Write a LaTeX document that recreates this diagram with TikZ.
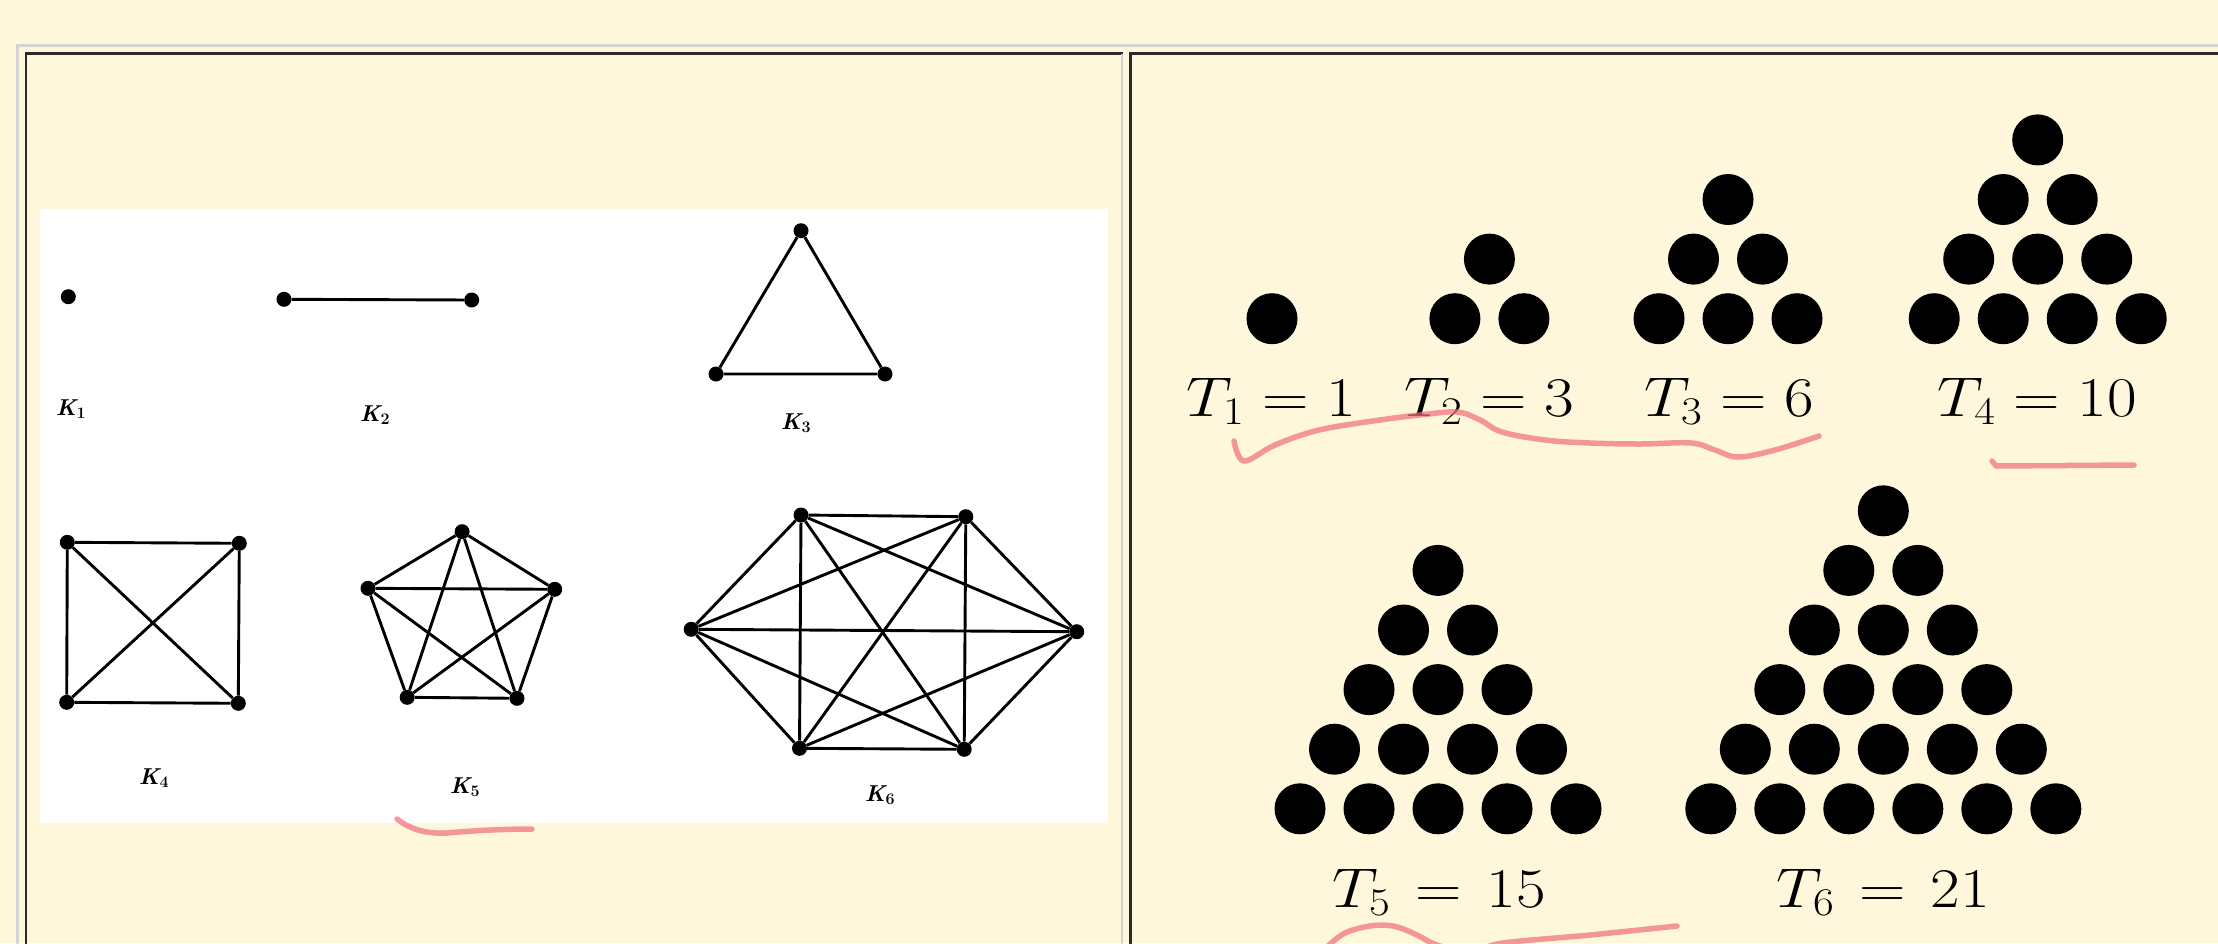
\RequirePackage{fix-cm}
\documentclass[tikz,border=0pt]{standalone}
\usepackage{amsmath}
\usepackage{graphicx}
\definecolor{bgcream}{HTML}{FFF7DC}
\definecolor{lightframe}{HTML}{D4D4D4}
\definecolor{darkframe}{HTML}{2A2A2A}
\definecolor{markred}{RGB}{240,110,122}
\newcommand{\wideT}[1]{\scalebox{1.15}[1]{#1}}
\begin{document}
\begin{tikzpicture}[x=1pt,y=-1pt,
  kv/.style={circle,fill=black,inner sep=0pt,minimum size=15pt},
  ke/.style={line width=2.9pt,black},
  klab/.style={font=\fontsize{23}{26}\selectfont\bfseries\itshape,anchor=base,inner sep=0pt},
  tlab/.style={font=\fontsize{56}{60}\selectfont,anchor=base,inner sep=0pt},
  redmark/.style={line width=5.5pt,draw=markred,opacity=0.7,line cap=round,line join=round},
  lframe/.style={draw=lightframe,line width=2.6pt},
  dframe/.style={draw=darkframe,line width=2.8pt}]
\useasboundingbox (0,0) rectangle (2218,943);
\clip (0,0) rectangle (2218,943);
\fill[bgcream] (0,0) rectangle (2218,943);
% table frame
\draw[lframe] (17.7,950) -- (17.7,45.7) -- (2225,45.7);
\draw[dframe] (26,950) -- (26,53.7) -- (1123,53.7);
\draw[lframe] (1122,53.7) -- (1122,950);
\draw[dframe] (1130.3,950) -- (1130.3,53.7) -- (2225,53.7);
% left picture
\fill[white] (40,209) rectangle (1108,823);
% K1
\node[kv] (k1a) at (68.3,296.7) {};
% K2
\node[kv] (k2a) at (284,299.3) {};
\node[kv] (k2b) at (471.7,300) {};
\draw[ke] (k2a) -- (k2b);
% K3
\node[kv] (k3t) at (801,230.7) {};
\node[kv] (k3l) at (716,374) {};
\node[kv] (k3r) at (885,374) {};
\draw[ke] (k3t) -- (k3l) -- (k3r) -- (k3t);
% K4
\node[kv] (k4a) at (67.3,542.3) {};
\node[kv] (k4b) at (239.3,543.3) {};
\node[kv] (k4c) at (66.7,702.3) {};
\node[kv] (k4d) at (238.3,703.3) {};
\foreach \a/\b in {a/b,a/c,a/d,b/c,b/d,c/d} \draw[ke] (k4\a) -- (k4\b);
% K5
\node[kv] (k5t) at (462.1,531.7) {};
\node[kv] (k5l) at (368,588.3) {};
\node[kv] (k5r) at (554.7,589.3) {};
\node[kv] (k5p) at (407.2,697.3) {};
\node[kv] (k5q) at (517,698.3) {};
\foreach \a/\b in {t/l,t/r,t/p,t/q,l/r,l/p,l/q,r/p,r/q,p/q} \draw[ke] (k5\a) -- (k5\b);
% K6
\node[kv] (k6a) at (801,515) {};
\node[kv] (k6b) at (965.8,516.7) {};
\node[kv] (k6c) at (691.2,629.3) {};
\node[kv] (k6d) at (1076.7,631.7) {};
\node[kv] (k6e) at (799.5,748.3) {};
\node[kv] (k6f) at (964.2,749.3) {};
\foreach \a/\b in {a/b,a/c,a/d,a/e,a/f,b/c,b/d,b/e,b/f,c/d,c/e,c/f,d/e,d/f,e/f} \draw[ke] (k6\a) -- (k6\b);
% K labels
\node[klab] (lk1) at (71,415) {K$_{\mathbf 1}$};
\node[klab] (lk2) at (375,421) {K$_{\mathbf 2}$};
\node[klab] (lk3) at (796,429) {K$_{\mathbf 3}$};
\node[klab] (lk4) at (154,784) {K$_{\mathbf 4}$};
\node[klab] (lk5) at (465,793) {K$_{\mathbf 5}$};
\node[klab] (lk6) at (880,801) {K$_{\mathbf 6}$};
% red mark under K5
\draw[redmark] (397,819) .. controls (410,829) and (425,834) .. (447,833) .. controls (480,830) and (510,829) .. (532,829);
% triangular numbers
\foreach \n/\cx/\by in {1/1272/318.7,2/1489.4/318.7,3/1728/318.7,4/2037.7/318.7,5/1438/808.8,6/1883.3/808.8}{
  \pgfmathtruncatemacro\m{\n-1}
  \foreach \r in {0,...,\m}{
    \pgfmathtruncatemacro\c{\m-\r}
    \foreach \k in {0,...,\c}{
      \fill ({\cx+(\k-\c/2)*69},{\by-\r*59.6}) circle (25.5pt);
    }
  }
}
\node[tlab] (lt1) at (1271,416) {\wideT{$T_1 = 1$}};
\node[tlab] (lt2) at (1489,416) {\wideT{$T_2 = 3$}};
\node[tlab] (lt3) at (1729,416) {\wideT{$T_3 = 6$}};
\node[tlab] (lt4) at (2037,416) {\wideT{$T_4 = 10$}};
\node[tlab] (lt5) at (1439,907) {\wideT{$T_5 \mkern2mu=\mkern2mu 15$}};
\node[tlab] (lt6) at (1883,907) {\wideT{$T_6 \mkern2mu=\mkern2mu 21$}};
% red marks right
\draw[redmark] plot[smooth,tension=0.6] coordinates {(1234,441) (1244,461) (1275,445) (1319,430) (1380,420) (1420,415) (1457,412) (1480,420) (1502,432) (1545,440) (1590,443) (1640,444) (1691,443) (1715,450) (1738,457) (1775,450) (1819,436)};
\draw[redmark] (1992,461) -- (1996,466) -- (2134,465);
\draw[redmark] plot[smooth,tension=0.6] coordinates {(1328,946) (1345,933) (1370,926) (1393,926) (1415,934) (1437,945) (1470,952) (1503,943) (1590,935) (1677,926)};
\end{tikzpicture}
\end{document}
